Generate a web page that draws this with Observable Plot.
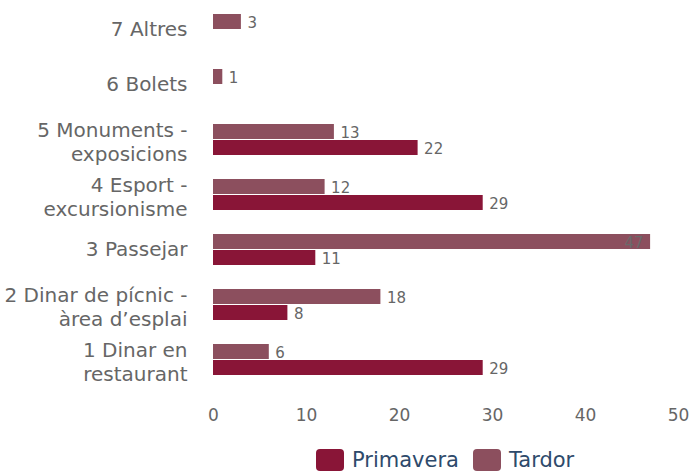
<!DOCTYPE html>
<html><head><meta charset="utf-8">
<script src="https://cdn.jsdelivr.net/npm/d3@7"></script>
<script src="https://cdn.jsdelivr.net/npm/@observablehq/plot@0.6"></script>
<style>
html,body{margin:0;background:#fff;font-family:"DejaVu Sans",sans-serif;overflow:hidden;}
#legend{display:flex;align-items:center;position:absolute;left:316px;top:448px;height:24px;font-size:21px;line-height:24px;color:#2e4a6b;}
.sw{width:28px;height:22px;border-radius:4px;margin-right:8px;}
.it{display:flex;align-items:center;margin-right:14px;}
</style></head>
<body>
<div id="chart"></div>
<div id="legend"></div>
<script>
const categories = ["7 Altres","6 Bolets","5 Monuments -\nexposicions","4 Esport -\nexcursionisme","3 Passejar","2 Dinar de pícnic -\nàrea d’esplai","1 Dinar en\nrestaurant"];
const series = ["Tardor","Primavera"];
const tardor = [3,1,13,12,47,18,6];
const primavera = [null,null,22,29,11,8,29];
const colors = {Primavera:"#891537", Tardor:"#8c4f5e"};
const xTicks = [0,10,20,30,40,50];

const data = [];
categories.forEach((c,i)=>{
  if (tardor[i]!=null) data.push({cat:c, s:"Tardor", v:tardor[i]});
  if (primavera[i]!=null) data.push({cat:c, s:"Primavera", v:primavera[i]});
});
const inside = d => d.v > 45;
const multi = categories.filter(c=>c.includes("\n"));
const single = categories.filter(c=>!c.includes("\n"));

const chart = Plot.plot({
  width:690, height:428,
  marginLeft:213, marginRight:12, marginTop:12, marginBottom:52,
  style:{fontFamily:"DejaVu Sans, sans-serif", fontSize:"17px", color:"#666"},
  x:{domain:[0,50], ticks:xTicks, label:null},
  fy:{domain:categories, padding:0.4, axis:null},
  y:{domain:series, padding:0.06, axis:null},
  marks:[
    Plot.axisX({ticks:xTicks, tickSize:0, tickPadding:32, fontSize:17, fill:"#666", label:null}),
    Plot.barX(data,{fy:"cat", y:"s", x:"v", fill:d=>colors[d.s]}),
    Plot.text(data.filter(d=>!inside(d)),{fy:"cat", y:"s", x:"v", text:d=>String(d.v), textAnchor:"start", dx:6, dy:1, fontSize:15, fill:"#666"}),
    Plot.text(data.filter(inside),{fy:"cat", y:"s", x:"v", text:d=>String(d.v), textAnchor:"end", dx:-7, dy:1, fontSize:15, fill:"#6a6a6a"}),
    Plot.text(single,{fy:d=>d, text:d=>d, frameAnchor:"left", dx:-26, dy:0, textAnchor:"end", fontSize:20, fill:"#666"}),
    Plot.text(multi,{fy:d=>d, text:d=>d, frameAnchor:"left", dx:-26, dy:1, textAnchor:"end", fontSize:20, lineHeight:1.2, fill:"#666"})
  ]
});
document.getElementById("chart").append(chart);

const lg = document.getElementById("legend");
["Primavera","Tardor"].forEach(s=>{
  const it=document.createElement("div"); it.className="it";
  const sw=document.createElement("div"); sw.className="sw"; sw.style.background=colors[s];
  const t=document.createElement("span"); t.textContent=s;
  it.append(sw,t); lg.append(it);
});
</script>
</body></html>
